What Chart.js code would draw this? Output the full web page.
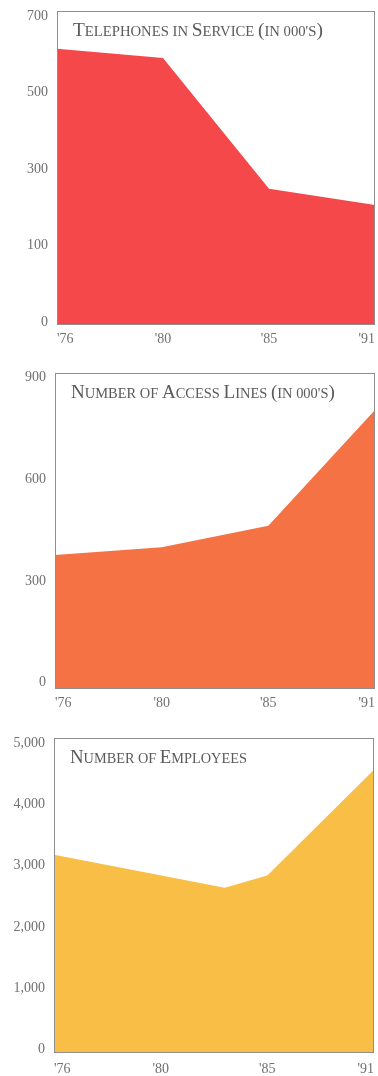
<!DOCTYPE html>
<html><head><meta charset="utf-8">
<script src="https://cdn.jsdelivr.net/npm/chart.js@4/dist/chart.umd.min.js"></script>
<style>
html,body{margin:0;padding:0;background:#fff;width:378px;height:1076px;overflow:hidden;}
.wrap{position:absolute;left:0;width:378px;}
canvas{display:block;}
</style></head><body>
<div class="wrap" style="top:0;height:358px"><canvas id="c1"></canvas></div>
<div class="wrap" style="top:358px;height:360px"><canvas id="c2"></canvas></div>
<div class="wrap" style="top:718px;height:358px"><canvas id="c3"></canvas></div>
<script>
// ---- data ----
const yearLabels = ["'76", "'80", "'85", "'91"];
const yearKnots = [1976, 1980, 1985, 1991];

const phoneTitle = "Telephones in Service (in 000's)";
const phoneYears = [1976, 1980, 1985, 1991];
const phoneValues = [614, 590, 248, 206];
const phoneTicks = [0, 100, 300, 500, 700];

const lineTitle = "Number of Access Lines (in 000's)";
const lineYears = [1976, 1980, 1985, 1991];
const lineValues = [377, 400, 463, 805];
const lineTicks = [0, 300, 600, 900];

const empTitle = "Number of Employees";
const empYears = [1976, 1983, 1985, 1991];
const empValues = [3180, 2640, 2840, 4575];
const empTicks = [0, 1000, 2000, 3000, 4000, 5000];

// ---- scale whose knots are evenly spaced on screen ----
class KnotScale extends Chart.LinearScale {
  static id = 'knot';
  static defaults = {};
  _kIdx(v) {
    const k = this.options.knots, n = k.length;
    let i = 0;
    while (i < n - 2 && v > k[i + 1]) i++;
    return i + (v - k[i]) / (k[i + 1] - k[i]);
  }
  buildTicks() {
    return this.options.knots.map(v => ({ value: v }));
  }
  getPixelForValue(v) {
    const a = this._kIdx(this.min), b = this._kIdx(this.max);
    return this.getPixelForDecimal((this._kIdx(v) - a) / (b - a));
  }
  getValueForPixel(p) {
    const a = this._kIdx(this.min), b = this._kIdx(this.max);
    const idx = a + this.getDecimalForPixel(p) * (b - a);
    const k = this.options.knots, n = k.length;
    const i = Math.max(0, Math.min(n - 2, Math.floor(idx)));
    return k[i] + (idx - i) * (k[i + 1] - k[i]);
  }
}
Chart.register(KnotScale);

const SERIF = "'Liberation Serif', 'DejaVu Serif', serif";
const tickFont = { family: SERIF, size: 14 };
const tickColor = '#707070';

// draws text as small capitals: capitals and brackets full size, the rest smaller capitals
function smallCapsRuns(text) {
  const runs = [];
  for (const ch of text) {
    const big = /[A-Z()]/.test(ch);
    const last = runs[runs.length - 1];
    if (last && last.big === big) last.s += ch.toUpperCase();
    else runs.push({ big: big, s: ch.toUpperCase() });
  }
  return runs;
}

const boxPlugin = {
  id: 'boxTitle',
  afterDatasetsDraw(chart, args, opts) {
    const { ctx, chartArea: ca } = chart;
    ctx.save();
    ctx.strokeStyle = '#8e8e8e';
    ctx.lineWidth = 1;
    const l = Math.round(ca.left) + 0.5, t = Math.round(ca.top) + 0.5;
    const r = Math.round(ca.right) - 0.5, b = Math.round(ca.bottom) - 0.5;
    ctx.strokeRect(l, t, r - l, b - t);

    ctx.fillStyle = '#5a5a5a';
    ctx.textBaseline = 'alphabetic';
    ctx.textAlign = 'left';
    const runs = smallCapsRuns(opts.text);
    const fontFor = (big, size) => (big ? size : size * opts.ratio) + 'px ' + SERIF;
    // measure at base size, then fit to the wanted width
    let w = 0;
    for (const run of runs) { ctx.font = fontFor(run.big, 100); w += ctx.measureText(run.s).width; }
    const size = 100 * opts.width / w;
    let x = ca.left + opts.dx;
    const y = ca.top + opts.dy;
    for (const run of runs) {
      ctx.font = fontFor(run.big, size);
      ctx.fillText(run.s, x, y);
      x += ctx.measureText(run.s).width;
    }
    ctx.restore();
  }
};

function makeChart(id, c) {
  return new Chart(document.getElementById(id), {
    type: 'line',
    data: {
      datasets: [{
        data: c.years.map((x, i) => ({ x: x, y: c.values[i] })),
        fill: 'start',
        backgroundColor: c.color,
        borderColor: c.color,
        borderWidth: 0,
        pointRadius: 0,
        tension: 0
      }]
    },
    options: {
      responsive: true,
      maintainAspectRatio: false,
      animation: false,
      events: [],
      layout: { padding: c.padding },
      plugins: {
        legend: { display: false },
        tooltip: { enabled: false },
        boxTitle: { text: c.title, width: c.titleWidth, ratio: 0.76, dx: 16, dy: 24.5 }
      },
      scales: {
        x: {
          type: 'knot',
          knots: yearKnots,
          min: yearKnots[0],
          max: yearKnots[yearKnots.length - 1],
          grid: { display: false, drawTicks: false },
          border: { display: false },
          ticks: {
            align: 'inner', padding: c.xpad, autoSkip: false, maxRotation: 0,
            font: tickFont, color: tickColor,
            callback: v => yearLabels[yearKnots.indexOf(v)]
          },
          afterFit: s => { s.height = c.xh; s.paddingLeft = 0; s.paddingRight = 0; }
        },
        y: Object.assign({
          min: c.ymin,
          max: c.ymax,
          grid: { display: false, drawTicks: false },
          border: { display: false },
          ticks: {
            padding: 9, font: tickFont, color: tickColor,
            callback: v => Number(v).toLocaleString('en-US')
          },
          afterBuildTicks: s => { s.ticks = c.ticks.map(v => ({ value: v })); },
          afterFit: s => { s.width = c.yw; s.paddingTop = 0; s.paddingBottom = 0; }
        }, c.yextra || {})
      }
    },
    plugins: [boxPlugin]
  });
}

makeChart('c1', {
  title: phoneTitle, titleWidth: 250, years: phoneYears, values: phoneValues, ticks: phoneTicks,
  color: '#f4484b', ymin: -4, ymax: 713,
  yextra: { type: 'knot', knots: phoneTicks },
  padding: { top: 11, left: 0, right: 3, bottom: 3 }, yw: 57, xh: 30, xpad: 6
});
makeChart('c2', {
  title: lineTitle, titleWidth: 264, years: lineYears, values: lineValues, ticks: lineTicks,
  color: '#f47244', ymin: -18.6, ymax: 914,
  padding: { top: 15, left: 0, right: 3, bottom: 3 }, yw: 55, xh: 26, xpad: 6
});
makeChart('c3', {
  title: empTitle, titleWidth: 177, years: empYears, values: empValues, ticks: empTicks,
  color: '#f8be45', ymin: -65, ymax: 5093,
  padding: { top: 20, left: 0, right: 4, bottom: 2 }, yw: 54, xh: 21, xpad: 8
});
</script>
</body></html>
